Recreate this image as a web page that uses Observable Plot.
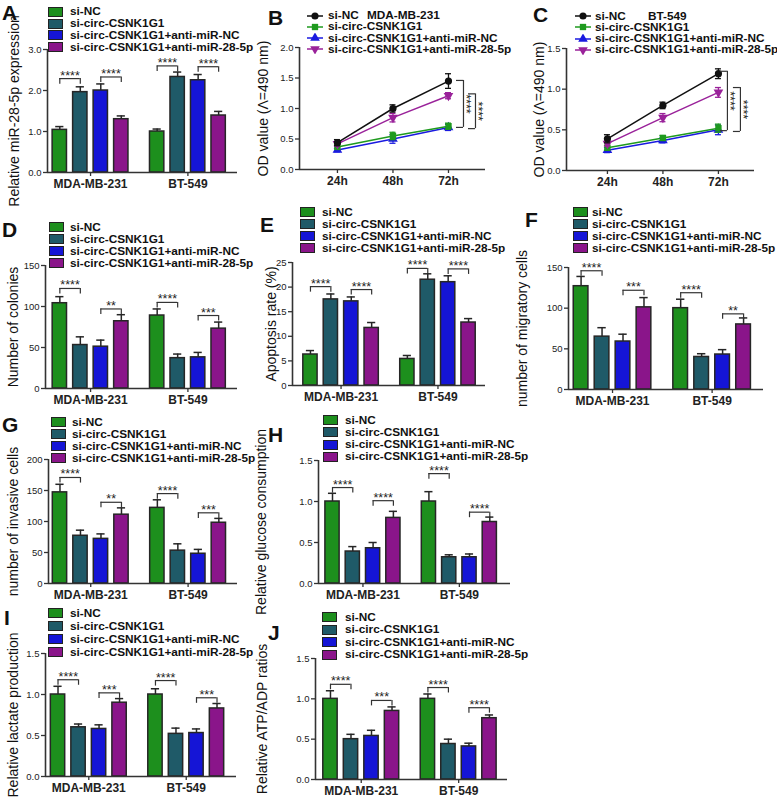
<!DOCTYPE html>
<html>
<head>
<meta charset="utf-8">
<script src="https://cdn.jsdelivr.net/npm/d3@7"></script>
<script src="https://cdn.jsdelivr.net/npm/@observablehq/plot@0.6"></script>
<style>
  body { margin: 0; background: #fff; }
  #fig { position: relative; width: 777px; height: 798px; overflow: hidden; background: #fff;
         font-family: "Liberation Sans", Arial, Helvetica, sans-serif; color: #111; }
  #fig svg.panel { position: absolute; left: 0; top: 0; background: transparent !important;
         font-family: "Liberation Sans", Arial, Helvetica, sans-serif; color: #222; }
  #fig svg [aria-label="x-axis tick label"] { font-weight: bold; }
  .letter { position: absolute; font-weight: bold; font-size: 21px; line-height: 21px; }
  .legrow { position: absolute; display: flex; align-items: center; height: 11px;
            font-weight: bold; font-size: 11.8px; line-height: 11px; white-space: nowrap; }
  .sw { display: inline-block; width: 15px; height: 10px; box-sizing: border-box; border: 1.5px solid #222; flex: none; }
  .legtitle { position: absolute; font-weight: bold; font-size: 11.8px; line-height: 11px; white-space: nowrap; }
</style>
</head>
<body>
<div id="fig"></div>
<script>
// ---------------- DATA ----------------
const groups = ["MDA-MB-231", "BT-549"];
const series = ["si-NC", "si-circ-CSNK1G1", "si-circ-CSNK1G1+anti-miR-NC", "si-circ-CSNK1G1+anti-miR-28-5p"];
const hours = [24, 48, 72];

// A: Relative miR-28-5p expression (MDA-MB-231 x4, BT-549 x4)
const miRExpr    = [1.04, 1.96, 2.0, 1.3, 1.0, 2.33, 2.25, 1.39];
const miRExprErr = [0.08, 0.13, 0.16, 0.08, 0.06, 0.12, 0.14, 0.1];
const miRExprSig = [[0, 0, 1, 2.29, "****"], [0, 2, 3, 2.33, "****"], [1, 0, 1, 2.6, "****"], [1, 2, 3, 2.58, "****"]];
const miRExprTicks = [0, 1, 2, 3];

// B: OD value MDA-MB-231 (series x time)
const odMDA    = [[0.44, 1.0, 1.45], [0.37, 0.55, 0.71], [0.32, 0.5, 0.69], [0.42, 0.85, 1.21]];
const odMDAErr = [[0.05, 0.06, 0.12], [0.03, 0.06, 0.05], [0.03, 0.07, 0.05], [0.04, 0.07, 0.05]];
const odMDASig = [[1.46, 0.69, "****"], [1.24, 0.67, "****"]];
const odMDATicks = [0, 0.5, 1, 1.5, 2];

// C: OD value BT-549
const odBT    = [[0.39, 0.8, 1.19], [0.28, 0.4, 0.52], [0.25, 0.37, 0.5], [0.33, 0.65, 0.96]];
const odBTErr = [[0.05, 0.04, 0.06], [0.03, 0.03, 0.05], [0.03, 0.03, 0.06], [0.03, 0.05, 0.06]];
const odBTSig = [[1.22, 0.49, "****"], [1.02, 0.48, "****"]];
const odBTTicks = [0, 0.5, 1, 1.5];

// D: Number of colonies
const colonies    = [104, 53, 51, 82, 89, 37, 38, 73];
const coloniesErr = [8, 10, 8, 8, 8, 5, 6, 8];
const coloniesSig = [[0, 0, 1, 122, "****"], [0, 2, 3, 97, "**"], [1, 0, 1, 105, "****"], [1, 2, 3, 89, "***"]];
const coloniesTicks = [0, 50, 100, 150];

// E: Apoptosis rate (%)
const apoptosis    = [6.3, 17.5, 17.1, 11.7, 5.4, 21.5, 21.0, 12.8];
const apoptosisErr = [0.8, 1.1, 0.9, 1.1, 0.7, 1.2, 1.3, 0.8];
const apoptosisSig = [[0, 0, 1, 20.1, "****"], [0, 2, 3, 19.5, "****"], [1, 0, 1, 23.8, "****"], [1, 2, 3, 23.7, "****"]];
const apoptosisTicks = [0, 5, 10, 15, 20, 25];

// F: number of migratory cells
const migratory    = [127, 65, 59, 101, 100, 40, 43, 80];
const migratoryErr = [12, 11, 9, 12, 11, 4, 6, 8];
const migratorySig = [[0, 0, 1, 146, "****"], [0, 2, 3, 122, "***"], [1, 0, 1, 119, "****"], [1, 2, 3, 93, "**"]];
const migratoryTicks = [0, 50, 100, 150];

// G: number of invasive cells
const invasive    = [147, 77, 72, 111, 122, 53, 48, 98];
const invasiveErr = [13, 9, 8, 11, 13, 11, 7, 7];
const invasiveSig = [[0, 0, 1, 171, "****"], [0, 2, 3, 131, "**"], [1, 0, 1, 145, "****"], [1, 2, 3, 114, "***"]];
const invasiveTicks = [0, 50, 100, 150, 200];

// H: Relative glucose consumption
const glucose    = [1.0, 0.39, 0.43, 0.8, 1.0, 0.32, 0.32, 0.75];
const glucoseErr = [0.1, 0.06, 0.07, 0.08, 0.12, 0.03, 0.04, 0.06];
const glucoseSig = [[0, 0, 1, 1.17, "****"], [0, 2, 3, 1.01, "****"], [1, 0, 1, 1.34, "****"], [1, 2, 3, 0.87, "****"]];
const glucoseTicks = [0, 0.5, 1, 1.5];

// I: Relative lactate production
const lactate    = [1.0, 0.6, 0.58, 0.9, 1.0, 0.52, 0.53, 0.83];
const lactateErr = [0.1, 0.04, 0.05, 0.05, 0.07, 0.07, 0.05, 0.06];
const lactateSig = [[0, 0, 1, 1.18, "****"], [0, 2, 3, 1.02, "***"], [1, 0, 1, 1.17, "****"], [1, 2, 3, 0.96, "***"]];
const lactateTicks = [0, 0.5, 1, 1.5];

// J: Relative ATP/ADP ratios
const atp    = [1.0, 0.5, 0.54, 0.85, 1.0, 0.44, 0.41, 0.76];
const atpErr = [0.1, 0.06, 0.07, 0.05, 0.06, 0.06, 0.04, 0.04];
const atpSig = [[0, 0, 1, 1.18, "****"], [0, 2, 3, 0.98, "***"], [1, 0, 1, 1.14, "****"], [1, 2, 3, 0.89, "****"]];
const atpTicks = [0, 0.5, 1, 1.5];

// ---------------- STYLE / LAYOUT ----------------
const barColors  = ["#1d8f1d", "#1f5a68", "#1515d6", "#8a158a"];
const lineColors = ["#111111", "#1e9a1e", "#1a1ae0", "#9a229a"];
const W = 777, H = 798;
const GROUP_STEP = 4.75, BAR_W = 0.7, CAP = 0.2;
const INK = "#262626";

const LAYOUT = {
  A: {left: 47, right: 237, top: 49, bottom: 172, xmin: -0.6, xmax: 8.67, titleDx: -33, legend: {x: 48, y: 11.7, dy: 11.8, tx: 70}, letter: [2, 5]},
  B: {left: 299, right: 485, top: 47, bottom: 169, xmin: 7.6, xmax: 88, titleDx: -36, bracketDx: [15, 27], legend: {x: 307, y: 15.5, dy: 11.3, tx: 328, title: 367}, letter: [268, 10]},
  C: {left: 566, right: 754, top: 48, bottom: 170, xmin: 6.3, xmax: 87.6, titleDx: -27, bracketDx: [9, 22], legend: {x: 575, y: 16, dy: 11.3, tx: 595, title: 648}, letter: [533, 7]},
  D: {left: 45, right: 237, top: 265, bottom: 388, xmin: -0.7, xmax: 8.67, titleDx: -32, legend: {x: 49, y: 227, dy: 12, tx: 70}, letter: [2, 222]},
  E: {left: 292, right: 485, top: 262, bottom: 385, xmin: -0.88, xmax: 8.58, titleDx: -21, legend: {x: 300, y: 212, dy: 12, tx: 322}, letter: [260, 217]},
  F: {left: 568, right: 763, top: 267, bottom: 389, xmin: -0.6, xmax: 8.7, titleDx: -46, legend: {x: 573, y: 212, dy: 12, tx: 592}, letter: [525, 212]},
  G: {left: 48, right: 237, top: 459, bottom: 583, xmin: -0.56, xmax: 8.66, titleDx: -35, legend: {x: 51, y: 422, dy: 12, tx: 72}, letter: [2, 417]},
  H: {left: 318, right: 510, top: 460, bottom: 583, xmin: -0.69, xmax: 8.77, titleDx: -57, legend: {x: 323, y: 420, dy: 12.3, tx: 345}, letter: [268, 427]},
  I: {left: 45, right: 236, top: 653, bottom: 776, xmin: -0.61, xmax: 8.7, titleDx: -32, legend: {x: 48, y: 613, dy: 13, tx: 70}, letter: [4, 610]},
  J: {left: 315, right: 507, top: 658, bottom: 779, xmin: -0.73, xmax: 8.63, titleDx: -53, legend: {x: 322, y: 617, dy: 12.5, tx: 345}, letter: [268, 625]}
};

const fig = document.getElementById("fig");

// custom downward triangle symbol
const triangleDown = {
  draw(context, size) {
    const y = -Math.sqrt(size / (Math.sqrt(3) * 3));
    context.moveTo(0, -y * 2);
    context.lineTo(-Math.sqrt(3) * y, y);
    context.lineTo(Math.sqrt(3) * y, y);
    context.closePath();
  }
};
const lineSymbols = [d3.symbolCircle, d3.symbolSquare, d3.symbolTriangle, triangleDown];

function addSvg(svg) { svg.classList.add("panel"); fig.appendChild(svg); }

function letter(key, ch) {
  const [x, capTop] = LAYOUT[key].letter;
  const d = document.createElement("div");
  d.className = "letter"; d.textContent = ch;
  d.style.left = x + "px"; d.style.top = (capTop - 2.8) + "px";
  fig.appendChild(d);
}

function barLegend(key) {
  const L = LAYOUT[key].legend;
  series.forEach((s, i) => {
    const row = document.createElement("div");
    row.className = "legrow";
    row.style.left = L.x + "px";
    row.style.top = (L.y + i * L.dy - 5.5) + "px";
    const sw = document.createElement("span");
    sw.className = "sw"; sw.style.background = barColors[i];
    sw.style.marginRight = (L.tx - L.x - 15) + "px";
    row.append(sw, document.createTextNode(s));
    fig.appendChild(row);
  });
}

function lineLegend(key, title) {
  const L = LAYOUT[key].legend;
  series.forEach((s, i) => {
    const row = document.createElement("div");
    row.className = "legrow";
    row.style.left = L.x + "px";
    row.style.top = (L.y + i * L.dy - 5.5) + "px";
    const ns = "http://www.w3.org/2000/svg";
    const svg = document.createElementNS(ns, "svg");
    svg.setAttribute("width", 16); svg.setAttribute("height", 10);
    svg.style.marginRight = (L.tx - L.x - 16) + "px";
    svg.style.flex = "none";
    const ln = document.createElementNS(ns, "line");
    ln.setAttribute("x1", 0); ln.setAttribute("x2", 16); ln.setAttribute("y1", 5); ln.setAttribute("y2", 5);
    ln.setAttribute("stroke", lineColors[i]); ln.setAttribute("stroke-width", 1.5);
    const p = document.createElementNS(ns, "path");
    p.setAttribute("d", d3.symbol(lineSymbols[i], 40)());
    p.setAttribute("transform", "translate(8,5)");
    p.setAttribute("fill", lineColors[i]);
    svg.append(ln, p);
    row.append(svg, document.createTextNode(s));
    fig.appendChild(row);
  });
  const t = document.createElement("div");
  t.className = "legtitle"; t.textContent = title;
  t.style.left = L.title + "px"; t.style.top = (L.y - 5.5) + "px";
  fig.appendChild(t);
}

function yTitle(L, title) {
  return Plot.text([title], {frameAnchor: "left", rotate: -90, dx: L.titleDx, text: d => d,
                             textAnchor: "middle", lineAnchor: "middle", fontSize: 14, fill: "#111"});
}

function barPanel(key, vals, errs, sigs, ticks, fmt, title) {
  const L = LAYOUT[key];
  const rows = vals.map((v, k) => ({
    group: groups[Math.floor(k / 4)], series: series[k % 4],
    pos: Math.floor(k / 4) * GROUP_STEP + (k % 4), value: v, err: errs[k]
  }));
  const br = sigs.map(([g, a, b, level, label]) => ({x1: g * GROUP_STEP + a, x2: g * GROUP_STEP + b, level, label}));
  const yMax = ticks[ticks.length - 1];
  const drop = yMax * 0.045;
  const centers = groups.map((g, i) => i * GROUP_STEP + 1.5);
  const svg = Plot.plot({
    width: W, height: H,
    marginLeft: L.left, marginRight: W - L.right, marginTop: L.top, marginBottom: H - L.bottom,
    x: {domain: [L.xmin, L.xmax], axis: null},
    y: {domain: [0, yMax], axis: null},
    color: {domain: series, range: barColors},
    marks: [
      Plot.rectY(rows, {x1: d => d.pos - BAR_W / 2, x2: d => d.pos + BAR_W / 2, y1: 0, y2: "value",
                        fill: "series", stroke: INK, strokeWidth: 1.5}),
      Plot.ruleX(rows, {x: "pos", y1: "value", y2: d => d.value + d.err, stroke: INK, strokeWidth: 1.5}),
      Plot.ruleY(rows, {x1: d => d.pos - CAP, x2: d => d.pos + CAP, y: d => d.value + d.err, stroke: INK, strokeWidth: 1.5}),
      Plot.ruleY(br, {x1: "x1", x2: "x2", y: "level", stroke: "#333", strokeWidth: 1.2}),
      Plot.ruleX(br, {x: "x1", y1: d => d.level - drop, y2: "level", stroke: "#333", strokeWidth: 1.2}),
      Plot.ruleX(br, {x: "x2", y1: d => d.level - drop, y2: "level", stroke: "#333", strokeWidth: 1.2}),
      Plot.text(br, {x: d => (d.x1 + d.x2) / 2, y: "level", text: "label", fontSize: 12.5, dy: -3, fill: "#222"}),
      Plot.ruleY([0], {stroke: "#333", strokeWidth: 1.6}),
      Plot.ruleX([L.xmin], {stroke: "#333", strokeWidth: 1.6}),
      Plot.axisY({ticks, tickFormat: fmt, tickSize: 4, tickPadding: 2, fontSize: 9.5, label: null, stroke: "#333", strokeWidth: 1.3}),
      Plot.axisX({ticks: centers, tickFormat: d => groups[centers.indexOf(d)], tickSize: 4, tickPadding: 3,
                  fontSize: 12, fontWeight: "bold", label: null, stroke: "#333", strokeWidth: 1.3}),
      yTitle(L, title)
    ]
  });
  addSvg(svg);
  barLegend(key);
  letter(key, key);
}

function linePanel(key, vals, errs, sigs, ticks, title, legendTitle) {
  const L = LAYOUT[key];
  const rows = [];
  vals.forEach((arr, si) => arr.forEach((v, ti) => rows.push({series: series[si], si, time: hours[ti], value: v, err: errs[si][ti]})));
  const yMax = ticks[ticks.length - 1];
  const last = hours[hours.length - 1];
  const marks = [
    Plot.ruleY([0], {stroke: "#333", strokeWidth: 1.6}),
    Plot.ruleX([L.xmin], {stroke: "#333", strokeWidth: 1.6}),
    Plot.axisY({ticks, tickFormat: d3.format(".1f"), tickSize: 4, tickPadding: 2, fontSize: 9.5, label: null, stroke: "#333", strokeWidth: 1.3}),
    Plot.axisX({ticks: hours, tickFormat: d => d + "h", tickSize: 4, tickPadding: 3, fontSize: 12, fontWeight: "bold",
                label: null, stroke: "#333", strokeWidth: 1.3}),
    yTitle(L, title)
  ];
  const order = [2, 1, 3, 0];
  order.forEach(si => {
    const r = rows.filter(d => d.si === si);
    marks.push(Plot.line(r, {x: "time", y: "value", stroke: lineColors[si], strokeWidth: 1.5}));
  });
  order.forEach(si => {
    const r = rows.filter(d => d.si === si);
    const c = lineColors[si];
    marks.push(Plot.ruleX(r, {x: "time", y1: d => d.value - d.err, y2: d => d.value + d.err, stroke: c, strokeWidth: 1.3}));
    marks.push(Plot.ruleY(r, {x1: "time", x2: "time", y: d => d.value + d.err, insetLeft: -3, insetRight: -3, stroke: c, strokeWidth: 1.3}));
    marks.push(Plot.ruleY(r, {x1: "time", x2: "time", y: d => d.value - d.err, insetLeft: -3, insetRight: -3, stroke: c, strokeWidth: 1.3}));
    marks.push(Plot.dot(r, {x: "time", y: "value", fill: c, symbol: lineSymbols[si], r: 3.6}));
  });
  sigs.forEach(([top, bot, label], k) => {
    const dx = L.bracketDx[k];
    marks.push(Plot.ruleX([{top, bot}], {x: () => last, y1: "top", y2: "bot", dx, stroke: "#333", strokeWidth: 1.2}));
    marks.push(Plot.ruleY([top, bot], {x1: () => last, x2: () => last, y: d => d, dx, insetLeft: -7, stroke: "#333", strokeWidth: 1.2}));
    marks.push(Plot.text([label], {x: () => last, y: () => (top + bot) / 2, text: d => d, rotate: 90, dx: dx + 3, fontSize: 12.5, fill: "#222"}));
  });
  const svg = Plot.plot({
    width: W, height: H,
    marginLeft: L.left, marginRight: W - L.right, marginTop: L.top, marginBottom: H - L.bottom,
    x: {domain: [L.xmin, L.xmax], axis: null},
    y: {domain: [0, yMax], axis: null},
    marks
  });
  addSvg(svg);
  lineLegend(key, legendTitle);
  letter(key, key);
}

const f1 = d3.format(".1f");
barPanel("A", miRExpr, miRExprErr, miRExprSig, miRExprTicks, undefined, "Relative miR-28-5p expression");
linePanel("B", odMDA, odMDAErr, odMDASig, odMDATicks, "OD value (\u039B=490 nm)", "MDA-MB-231");
linePanel("C", odBT, odBTErr, odBTSig, odBTTicks, "OD value (\u039B=490 nm)", "BT-549");
barPanel("D", colonies, coloniesErr, coloniesSig, coloniesTicks, undefined, "Number of colonies");
barPanel("E", apoptosis, apoptosisErr, apoptosisSig, apoptosisTicks, undefined, "Apoptosis rate (%)");
barPanel("F", migratory, migratoryErr, migratorySig, migratoryTicks, undefined, "number of migratory cells");
barPanel("G", invasive, invasiveErr, invasiveSig, invasiveTicks, undefined, "number of invasive cells");
barPanel("H", glucose, glucoseErr, glucoseSig, glucoseTicks, f1, "Relative glucose consumption");
barPanel("I", lactate, lactateErr, lactateSig, lactateTicks, f1, "Relative lactate production");
barPanel("J", atp, atpErr, atpSig, atpTicks, f1, "Relative ATP/ADP ratios");
</script>
</body>
</html>
